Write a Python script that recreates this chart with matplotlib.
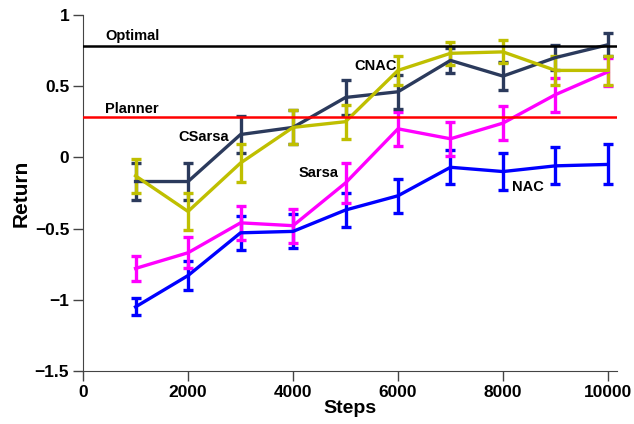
import matplotlib
matplotlib.use("Agg")
import matplotlib.pyplot as plt

# Data.
steps = [1000, 2000, 3000, 4000, 5000, 6000, 7000, 8000, 9000, 10000]

cnac = [-0.17, -0.17, 0.16, 0.21, 0.42, 0.46, 0.68, 0.57, 0.70, 0.79]
cnac_err = [0.13, 0.13, 0.13, 0.12, 0.12, 0.12, 0.09, 0.10, 0.09, 0.08]

csarsa = [-0.13, -0.38, -0.04, 0.21, 0.25, 0.61, 0.73, 0.74, 0.61, 0.61]
csarsa_err = [0.12, 0.13, 0.13, 0.12, 0.12, 0.10, 0.08, 0.08, 0.10, 0.10]

sarsa = [-0.78, -0.67, -0.46, -0.48, -0.18, 0.20, 0.13, 0.24, 0.44, 0.60]
sarsa_err = [0.09, 0.11, 0.12, 0.12, 0.14, 0.12, 0.12, 0.12, 0.12, 0.10]

nac = [-1.05, -0.83, -0.53, -0.52, -0.37, -0.27, -0.07, -0.10, -0.06, -0.05]
nac_err = [0.06, 0.10, 0.12, 0.12, 0.12, 0.12, 0.12, 0.13, 0.13, 0.14]

optimal = 0.78
planner = 0.28

plt.rcParams['font.family'] = ['Liberation Sans', 'DejaVu Sans']
plt.rcParams['font.weight'] = 'bold'

fig = plt.figure(figsize=(6.34, 4.24), dpi=100)
ax = fig.add_axes([0.131, 0.125, 0.842, 0.84])

# Series, drawn bottom to top.
series = [
    (nac, nac_err, '#0000ff'),
    (sarsa, sarsa_err, '#ff00ff'),
    (cnac, cnac_err, '#2b3a5c'),
    (csarsa, csarsa_err, '#bfbf00'),
]
for vals, err, col in series:
    ax.errorbar(steps, vals, yerr=err, color=col, linewidth=2.4,
                elinewidth=2.4, capsize=3.5, capthick=2.4)

# Reference levels.
ax.axhline(optimal, color='black', linewidth=1.8, zorder=5)
ax.axhline(planner, color='#ff0000', linewidth=1.8, zorder=5)

lab = dict(fontsize=10.5, fontweight='bold', va='center', ha='left')
ax.text(420, 0.85, 'Optimal', **lab)
ax.text(420, 0.34, 'Planner', **lab)
ax.text(1810, 0.14, 'CSarsa', **lab)
ax.text(4110, -0.11, 'Sarsa', **lab)
ax.text(5160, 0.64, 'CNAC', **lab)
ax.text(8170, -0.21, 'NAC', **lab)

ax.set_xlim(0, 10170)
ax.set_ylim(-1.5, 1.0)
ax.set_xticks([0, 2000, 4000, 6000, 8000, 10000])
ax.set_yticks([-1.5, -1, -0.5, 0, 0.5, 1])
ax.set_yticklabels(['\u22121.5', '\u22121', '\u22120.5', '0', '0.5', '1'])
ax.tick_params(labelsize=12.5, width=1, length=7, pad=3, color='#444444')
for side in ('left', 'bottom'):
    ax.spines[side].set_color('#444444')
ax.spines['top'].set_visible(False)
ax.spines['right'].set_visible(False)
ax.set_xlabel('Steps', fontsize=14, fontweight='bold', labelpad=0)
ax.set_ylabel('Return', fontsize=15, fontweight='bold', labelpad=3)

plt.savefig('out.png', dpi=100)
